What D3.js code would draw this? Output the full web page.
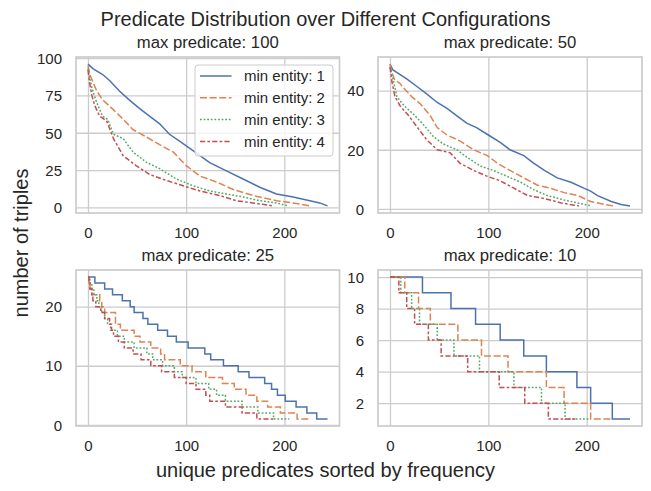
<!DOCTYPE html>
<html>
<head>
<meta charset="utf-8">
<script src="https://cdn.jsdelivr.net/npm/d3@7/dist/d3.min.js"></script>
<style>
  html, body { margin: 0; padding: 0; background: #ffffff; }
  svg { display: block; }
  text { font-family: "Liberation Sans", Arial, "DejaVu Sans", sans-serif; fill: #262626; }
</style>
</head>
<body>
<svg id="chart" width="651" height="491"></svg>
<script>
// ---------------- DATA ----------------
const chartTitle = "Predicate Distribution over Different Configurations";
const xLabel = "unique predicates sorted by frequency";
const yLabel = "number of triples";
const seriesNames = ["min entity: 1", "min entity: 2", "min entity: 3", "min entity: 4"];
const panelTitles = ["max predicate: 100", "max predicate: 50", "max predicate: 25", "max predicate: 10"];
const xTicks = [0, 100, 200];
const yTicks100 = [0, 25, 50, 75, 100];
const yTicks50 = [0, 20, 40];
const yTicks25 = [0, 10, 20];
const yTicks10 = [2, 4, 6, 8, 10];

// max predicate 100 : (x, y) points
const p100_e1_x = [0, 5, 15, 22, 32, 42, 53, 63, 73, 83, 94, 107, 124, 141, 158, 175, 192, 209, 226, 236, 244];
const p100_e1_y = [96, 93, 89, 85, 78, 72, 66, 61, 56, 49, 44, 38, 30, 24.5, 19, 13.5, 9, 7, 4.5, 3, 1];
const p100_e2_x = [0, 2, 5, 9, 15, 25, 36, 46, 60, 73, 87, 100, 114, 131, 148, 168, 192, 209, 226];
const p100_e2_y = [95, 89, 84, 78, 72, 66, 59, 52, 47, 42, 37, 28, 21, 17, 12, 8, 4.5, 3, 1];
const p100_e3_x = [0, 2, 4, 6, 9, 15, 20, 26, 36, 46, 60, 73, 90, 107, 124, 141, 158, 175, 192, 204];
const p100_e3_y = [93, 86, 80, 76, 70, 61, 59, 49, 46, 37, 30, 26, 19, 14.5, 11, 9, 7, 4.5, 3, 1];
const p100_e4_x = [0, 2, 4, 7, 12, 19, 26, 36, 49, 63, 80, 97, 114, 134, 151, 168, 189];
const p100_e4_y = [92, 82, 75, 68, 61, 58, 46, 34.5, 28, 22, 18, 14.5, 11, 8, 4.5, 3, 1];

// max predicate 50 : (x, y) points
const p50_e1_x = [0, 3, 10, 17, 27, 37, 48, 58, 68, 78, 88, 100, 112, 122, 136, 146, 157, 170, 184, 197, 204, 211, 225, 235, 244];
const p50_e1_y = [49, 47, 45.5, 44, 41.5, 39, 36, 34, 31.5, 29, 27.5, 25, 22.5, 20, 18, 15.5, 13, 10.5, 9, 7, 6, 4.5, 2.5, 1.5, 1];
const p50_e2_x = [0, 2, 5, 10, 15, 22, 31, 41, 48, 58, 71, 85, 99, 109, 122, 136, 150, 163, 177, 191, 204, 218, 227];
const p50_e2_y = [49, 46, 43.5, 42.5, 40.5, 38, 35.5, 31.5, 27.5, 25, 23, 20, 18, 15.5, 13, 10.5, 8, 7, 5.5, 4.5, 2.5, 1.5, 1];
const p50_e3_x = [0, 3, 7, 14, 24, 34, 44, 54, 68, 78, 92, 105, 119, 133, 146, 160, 177, 191, 205];
const p50_e3_y = [48, 44, 38, 35, 32, 28.5, 24.5, 22, 20, 17.5, 14.5, 13, 11, 9, 6.5, 4.5, 3, 2, 1];
const p50_e4_x = [0, 2, 5, 10, 19, 27, 37, 48, 61, 71, 85, 99, 112, 126, 140, 157, 174, 192];
const p50_e4_y = [48, 43, 38, 35, 31.5, 28, 23.5, 20, 19, 15.5, 13, 11, 9.5, 7, 4.5, 3.5, 2, 1];

// max predicate 25 : start index of each step and its value (last entry = end of line)
const p25_e1_x = [0, 7, 17, 25, 35, 43, 47, 56, 61, 71, 81, 90, 102, 119, 125, 138, 153, 164, 180, 187, 193, 201, 212, 223, 233, 244];
const p25_e1_y = [25, 24, 23, 22, 21, 20, 19, 18, 17, 16, 15, 14, 13, 12, 11, 10, 9, 8, 7, 6, 5, 4, 3, 2, 1, 1];
const p25_e2_x = [0, 1, 2, 4, 12, 14, 17, 28, 33, 47, 53, 64, 74, 78, 94, 106, 120, 137, 149, 161, 172, 183, 196, 213, 226];
const p25_e2_y = [25, 24, 23, 22, 21, 20, 19, 17, 16, 15, 14, 13, 12, 11, 10, 9, 8, 7, 6, 5, 4, 3, 2, 1, 1];
const p25_e3_x = [0, 2, 4, 6, 9, 11, 14, 17, 20, 23, 30, 37, 47, 60, 66, 76, 88, 96, 110, 123, 131, 140, 157, 173, 189, 205];
const p25_e3_y = [25, 24, 23, 22, 21, 20, 19, 18, 17, 16, 15, 14, 13, 12, 11, 10, 9, 8, 7, 6, 5, 4, 3, 2, 1, 1];
const p25_e4_x = [0, 1, 2, 4, 5, 8, 13, 17, 22, 24, 26, 31, 37, 46, 54, 64, 75, 88, 100, 110, 120, 124, 140, 157, 172, 190];
const p25_e4_y = [25, 24, 23, 22, 21, 20, 19, 18, 17, 16, 15, 14, 13, 12, 11, 10, 9, 8, 7, 6, 5, 4, 3, 2, 1, 1];

// max predicate 10 : start index of each step and its value (last entry = end of line)
const p10_e1_x = [0, 33, 62, 87, 112, 136, 159, 190, 204, 226, 244];
const p10_e1_y = [10, 9, 8, 7, 6, 5, 4, 3, 2, 1, 1];
const p10_e2_x = [0, 15, 29, 41, 69, 93, 120, 159, 177, 204, 226];
const p10_e2_y = [10, 9, 8, 7, 6, 5, 4, 3, 2, 1, 1];
const p10_e3_x = [0, 11, 22, 30, 48, 65, 91, 126, 154, 178, 203];
const p10_e3_y = [10, 9, 8, 7, 6, 5, 4, 3, 2, 1, 1];
const p10_e4_x = [0, 9, 17, 25, 39, 52, 79, 111, 137, 161, 189];
const p10_e4_y = [10, 9, 8, 7, 6, 5, 4, 3, 2, 1, 1];

// ---------------- BUILD ----------------
const zip = (xs, ys) => xs.map((x, i) => [x, ys[i]]);
const panels = [
  { title: panelTitles[0], yTicks: yTicks100, curve: d3.curveLinear,
    series: [zip(p100_e1_x, p100_e1_y), zip(p100_e2_x, p100_e2_y), zip(p100_e3_x, p100_e3_y), zip(p100_e4_x, p100_e4_y)],
    box: { l: 76, r: 339.5, t: 57, b: 213 }, legend: true },
  { title: panelTitles[1], yTicks: yTicks50, curve: d3.curveLinear,
    series: [zip(p50_e1_x, p50_e1_y), zip(p50_e2_x, p50_e2_y), zip(p50_e3_x, p50_e3_y), zip(p50_e4_x, p50_e4_y)],
    box: { l: 378, r: 642, t: 57, b: 213 } },
  { title: panelTitles[2], yTicks: yTicks25, curve: d3.curveStepAfter,
    series: [zip(p25_e1_x, p25_e1_y), zip(p25_e2_x, p25_e2_y), zip(p25_e3_x, p25_e3_y), zip(p25_e4_x, p25_e4_y)],
    box: { l: 76, r: 339.5, t: 270, b: 426 } },
  { title: panelTitles[3], yTicks: yTicks10, curve: d3.curveStepAfter,
    series: [zip(p10_e1_x, p10_e1_y), zip(p10_e2_x, p10_e2_y), zip(p10_e3_x, p10_e3_y), zip(p10_e4_x, p10_e4_y)],
    box: { l: 378, r: 642, t: 270, b: 426 } }
];

const colors = ["#4c72b0", "#dd8452", "#55a868", "#c44e52"];
const dashes = [null, "7,2.6", "1.8,1.8", "5.2,2.2,2.6,2.2"];
const lineW = 1.5;
const gridColor = "#cccccc";

const svg = d3.select("#chart");
svg.append("rect").attr("width", 651).attr("height", 491).attr("fill", "#ffffff");

function padded(ext) {
  const m = (ext[1] - ext[0]) * 0.05;
  return [ext[0] - m, ext[1] + m];
}

panels.forEach((p) => {
  const all = p.series.flat();
  const x = d3.scaleLinear().domain(padded(d3.extent(all, d => d[0]))).range([p.box.l, p.box.r]);
  const y = d3.scaleLinear().domain(padded(d3.extent(all, d => d[1]))).range([p.box.b, p.box.t]);
  const g = svg.append("g");
  const w = p.box.r - p.box.l, h = p.box.b - p.box.t;

  // gridlines via axes
  g.append("g").attr("transform", `translate(0,${p.box.b})`)
    .call(d3.axisBottom(x).tickValues(xTicks).tickSize(-h).tickFormat(""))
    .call(s => s.select(".domain").remove())
    .call(s => s.selectAll("line").attr("stroke", gridColor).attr("stroke-width", 1.3));
  g.append("g").attr("transform", `translate(${p.box.l},0)`)
    .call(d3.axisLeft(y).tickValues(p.yTicks).tickSize(-w).tickFormat(""))
    .call(s => s.select(".domain").remove())
    .call(s => s.selectAll("line").attr("stroke", gridColor).attr("stroke-width", 1.3));

  // tick labels
  g.append("g").attr("transform", `translate(0,${p.box.b})`)
    .call(d3.axisBottom(x).tickValues(xTicks).tickSize(0).tickPadding(0).tickFormat(d3.format("d")))
    .call(s => s.select(".domain").remove())
    .call(s => s.selectAll("text").attr("y", 24.5).attr("dy", null)
      .attr("font-size", 15).attr("fill", "#262626")
      .style("font-family", '"Liberation Sans", Arial, sans-serif'));
  g.append("g").attr("transform", `translate(${p.box.l},0)`)
    .call(d3.axisLeft(y).tickValues(p.yTicks).tickSize(0).tickPadding(0).tickFormat(d3.format("d")))
    .call(s => s.select(".domain").remove())
    .call(s => s.selectAll("text").attr("x", -14).attr("dy", "0.35em")
      .attr("font-size", 15).attr("fill", "#262626")
      .style("font-family", '"Liberation Sans", Arial, sans-serif'));

  // lines
  const line = d3.line().x(d => x(d[0])).y(d => y(d[1])).curve(p.curve);
  p.series.forEach((s, i) => {
    g.append("path").datum(s)
      .attr("d", line)
      .attr("fill", "none")
      .attr("stroke", colors[i])
      .attr("stroke-width", lineW)
      .attr("stroke-linejoin", "miter")
      .attr("stroke-dasharray", dashes[i]);
  });

  // frame
  g.append("rect").attr("x", p.box.l).attr("y", p.box.t).attr("width", w).attr("height", h)
    .attr("fill", "none").attr("stroke", gridColor).attr("stroke-width", 1.7);

  // title
  g.append("text").attr("x", (p.box.l + p.box.r) / 2).attr("y", p.box.t - 8.7)
    .attr("text-anchor", "middle").attr("font-size", 16.7).text(p.title);

  // legend
  if (p.legend) {
    const lg = g.append("g");
    lg.append("rect").attr("x", 195).attr("y", 65).attr("width", 138).attr("height", 91)
      .attr("rx", 3).attr("fill", "#ffffff").attr("fill-opacity", 0.8)
      .attr("stroke", gridColor).attr("stroke-width", 1);
    seriesNames.forEach((name, i) => {
      const yy = 76 + i * 21.8;
      lg.append("line").attr("x1", 200).attr("x2", 231.5).attr("y1", yy).attr("y2", yy)
        .attr("stroke", colors[i]).attr("stroke-width", lineW).attr("stroke-dasharray", dashes[i]);
      lg.append("text").attr("x", 244).attr("y", yy).attr("dy", "0.35em")
        .attr("font-size", 15).text(name);
    });
  }
});

// figure texts
svg.append("text").attr("x", 325.5).attr("y", 26).attr("text-anchor", "middle")
  .attr("font-size", 20).text(chartTitle);
svg.append("text").attr("x", 325.5).attr("y", 477).attr("text-anchor", "middle")
  .attr("font-size", 20).text(xLabel);
svg.append("text").attr("transform", "translate(28,243) rotate(-90)").attr("text-anchor", "middle")
  .attr("font-size", 20).text(yLabel);
</script>
</body>
</html>
